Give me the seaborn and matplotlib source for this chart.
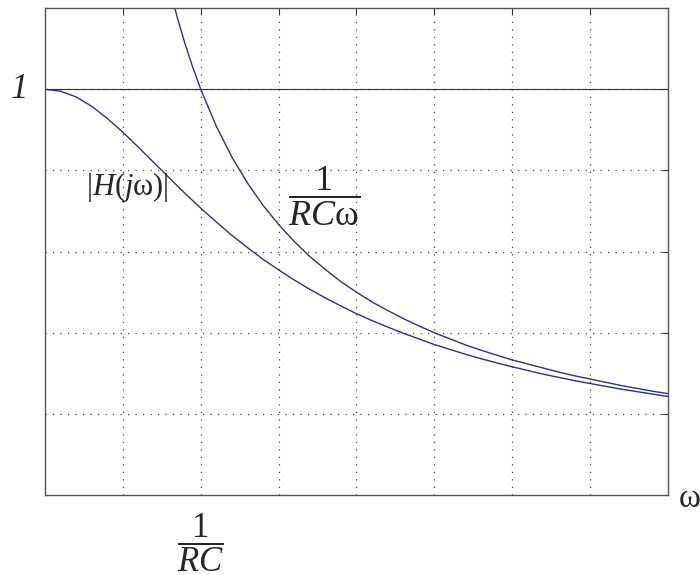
import numpy as np
import pandas as pd
import matplotlib
matplotlib.use("Agg")
import matplotlib.pyplot as plt
import seaborn as sns

# omega in units of 1/RC
w_h = [0.0, 0.1, 0.2, 0.3, 0.4, 0.5, 0.6, 0.7, 0.8, 0.9, 1.0, 1.1, 1.2, 1.3,
       1.4, 1.5, 1.6, 1.7, 1.8, 1.9, 2.0, 2.1, 2.2, 2.3, 2.4, 2.5, 2.6, 2.7,
       2.8, 2.9, 3.0, 3.1, 3.2, 3.3, 3.4, 3.5, 3.6, 3.7, 3.8, 3.9, 4.0]
mag_h = [1.000, 0.995, 0.981, 0.958, 0.928, 0.894, 0.857, 0.819, 0.781, 0.743,
         0.707, 0.673, 0.640, 0.610, 0.581, 0.555, 0.530, 0.507, 0.486, 0.466,
         0.447, 0.430, 0.414, 0.399, 0.385, 0.371, 0.359, 0.347, 0.336, 0.326,
         0.316, 0.307, 0.298, 0.290, 0.282, 0.275, 0.268, 0.261, 0.255, 0.249,
         0.243]

w_inv = [0.8, 0.85, 0.9, 0.95, 1.0, 1.1, 1.2, 1.3, 1.4, 1.5, 1.6, 1.7, 1.8,
         1.9, 2.0, 2.1, 2.2, 2.3, 2.4, 2.5, 2.6, 2.7, 2.8, 2.9, 3.0, 3.1, 3.2,
         3.3, 3.4, 3.5, 3.6, 3.7, 3.8, 3.9, 4.0]
mag_inv = [1.250, 1.176, 1.111, 1.053, 1.000, 0.909, 0.833, 0.769, 0.714,
           0.667, 0.625, 0.588, 0.556, 0.526, 0.500, 0.476, 0.455, 0.435,
           0.417, 0.400, 0.385, 0.370, 0.357, 0.345, 0.333, 0.323, 0.313,
           0.303, 0.294, 0.286, 0.278, 0.270, 0.263, 0.256, 0.250]

x_ticks = [0.5, 1.0, 1.5, 2.0, 2.5, 3.0, 3.5]
y_ticks = [0.2, 0.4, 0.6, 0.8, 1.0]
unity = 1.0

sns.set_style("white")
plt.rcParams["mathtext.fontset"] = "custom"
plt.rcParams["mathtext.rm"] = "Liberation Serif"
plt.rcParams["mathtext.it"] = "Liberation Serif:italic"
plt.rcParams["mathtext.bf"] = "Liberation Serif:bold"

curve_col = "#2e2e8f"

fig = plt.figure(figsize=(7, 5.75), dpi=100)
ax = fig.add_axes([0.0643, 0.139, 0.8897, 0.847])

df_h = pd.DataFrame({"w": w_h, "mag": mag_h})
df_inv = pd.DataFrame({"w": w_inv, "mag": mag_inv})
sns.lineplot(data=df_h, x="w", y="mag", ax=ax, color=curve_col, lw=1.0)
sns.lineplot(data=df_inv, x="w", y="mag", ax=ax, color=curve_col, lw=1.0)
ax.axhline(unity, color="#2a2a6a", lw=0.8)

ax.set_xlim(0, 4)
ax.set_ylim(0, 1.2)
ax.set_xticks(x_ticks)
ax.set_yticks(y_ticks)
ax.tick_params(direction="in", length=4, width=0.8, color="#333333",
               top=True, right=True, labelbottom=False, labelleft=False)
ax.grid(True, color="#444444", linestyle=(0, (1, 5)), linewidth=0.9)
ax.set_xlabel("")
ax.set_ylabel("")
for s in ax.spines.values():
    s.set_color("#555555")
    s.set_linewidth(1.0)

ax.text(-0.11, unity, "1", ha="right", va="center",
        fontsize=25, family="Liberation Serif", style="italic")
ax.text(1.0, -0.04, r"$\dfrac{1}{RC}$", ha="center", va="top",
        fontsize=25, clip_on=False)
ax.text(1.79, 0.735, r"$\dfrac{1}{RC\mathrm{\omega}}$",
        ha="center", va="center", fontsize=26)
ax.text(0.53, 0.76, r"$|H(j\mathrm{\omega})|$", ha="center", va="center",
        fontsize=22)
ax.text(4.07, -0.01, "ω", ha="left", va="center", fontsize=24,
        family="Liberation Serif", clip_on=False)

fig.savefig("out.png", dpi=100)
